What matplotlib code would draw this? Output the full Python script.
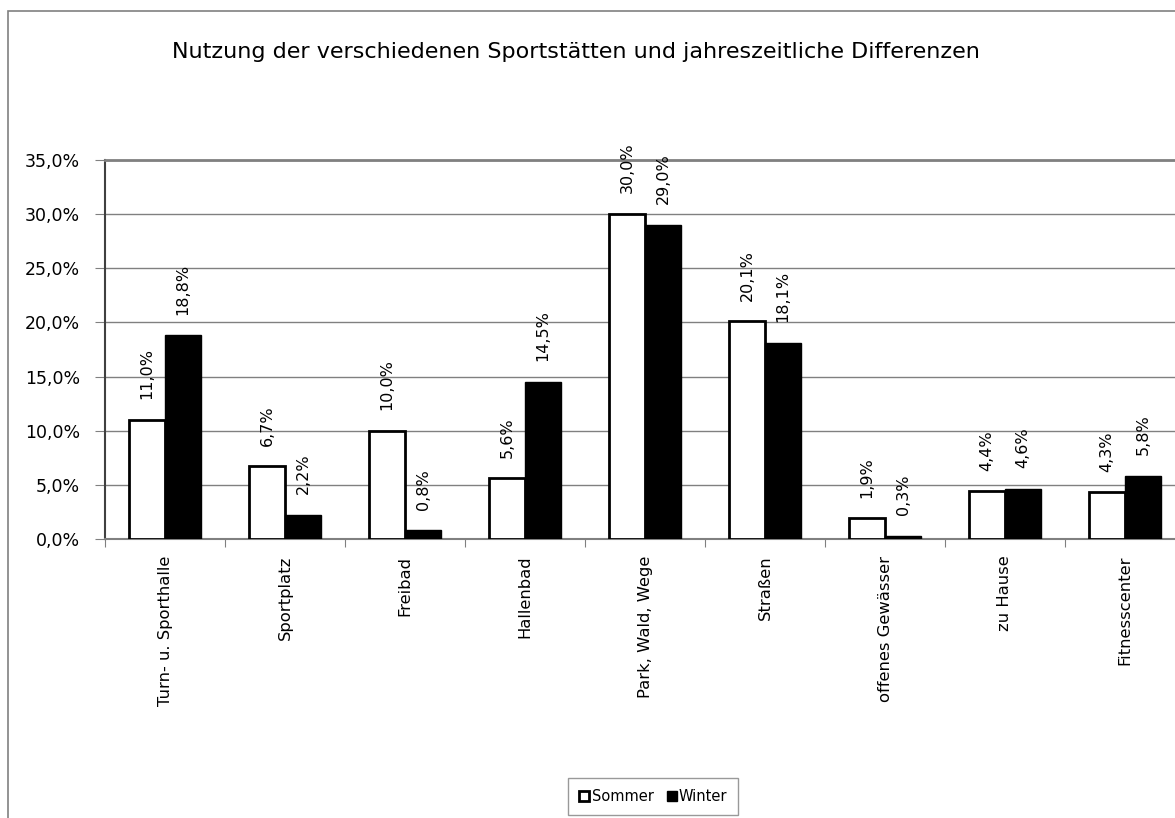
import numpy as np
import matplotlib.pyplot as plt
from matplotlib.patches import Rectangle

categories = ["Turn- u. Sporthalle", "Sportplatz", "Freibad", "Hallenbad",
              "Park, Wald, Wege", "Straßen", "offenes Gewässer", "zu Hause",
              "Fitnesscenter"]
sommer = [11.0, 6.7, 10.0, 5.6, 30.0, 20.1, 1.9, 4.4, 4.3]
winter = [18.8, 2.2, 0.8, 14.5, 29.0, 18.1, 0.3, 4.6, 5.8]
yticks = [0, 5, 10, 15, 20, 25, 30, 35]

plt.rcParams['font.family'] = ['DejaVu Sans']

fig = plt.figure(figsize=(11.75, 8.18), dpi=100)

# äußerer Rahmen
fig.patches.append(Rectangle((0.0068, -0.02), 1.1, 1.0066, transform=fig.transFigure,
                             fill=False, edgecolor='#808080', linewidth=1.2, zorder=0))

ax = fig.add_axes([0.0894, 0.341, 0.9191, 0.4634])

x = np.arange(len(categories))
w = 0.3
b1 = ax.bar(x - w / 2, sommer, w, color='white', edgecolor='black', linewidth=2, label='Sommer', zorder=3)
b2 = ax.bar(x + w / 2, winter, w, color='black', edgecolor='black', linewidth=1, label='Winter', zorder=3)

# Datenbeschriftungen
for bars, vals in ((b1, sommer), (b2, winter)):
    for r, v in zip(bars, vals):
        ax.annotate(f"{v:.1f}%".replace('.', ','),
                    (r.get_x() + r.get_width() / 2, r.get_height()),
                    xytext=(0, 15), textcoords='offset points',
                    rotation=90, ha='center', va='bottom', fontsize=11.5)

ax.set_xlim(-0.5, len(categories) - 0.5)
ax.set_ylim(0, 35)
ax.set_yticks(yticks)
ax.set_yticklabels([f"{v:.1f}%".replace('.', ',') for v in yticks], fontsize=12.5)
ax.yaxis.grid(True, color='#808080', linewidth=1)
ax.set_axisbelow(True)

ax.set_xticks(np.arange(len(categories) + 1) - 0.5)
ax.set_xticklabels([])
ax.set_xticks(x, minor=True)
ax.set_xticklabels(categories, minor=True, rotation=90, fontsize=11.8)
ax.tick_params(axis='x', which='minor', length=0, pad=12)
ax.tick_params(axis='x', which='major', length=6, color='#808080')
ax.tick_params(axis='y', length=7, color='#808080', pad=11)

ax.spines['top'].set_color('#808080')
ax.spines['top'].set_linewidth(2)
ax.spines['right'].set_visible(False)
ax.spines['left'].set_color('#404040')
ax.spines['left'].set_linewidth(1.5)
ax.spines['bottom'].set_color('#808080')
ax.spines['bottom'].set_linewidth(1.5)

fig.text(0.490, 0.937, "Nutzung der verschiedenen Sportstätten und jahreszeitliche Differenzen",
         ha='center', va='center', fontsize=16)

fig.legend(handles=[b1, b2], labels=['Sommer', 'Winter'], loc='center',
           bbox_to_anchor=(0.556, 0.026), ncol=2, frameon=True, fancybox=False,
           edgecolor='#808080', fontsize=10.5, handlelength=0.7, handleheight=0.7,
           handletextpad=0.15, columnspacing=0.9, borderpad=0.75, borderaxespad=0)

fig.savefig("out.png", dpi=100)
